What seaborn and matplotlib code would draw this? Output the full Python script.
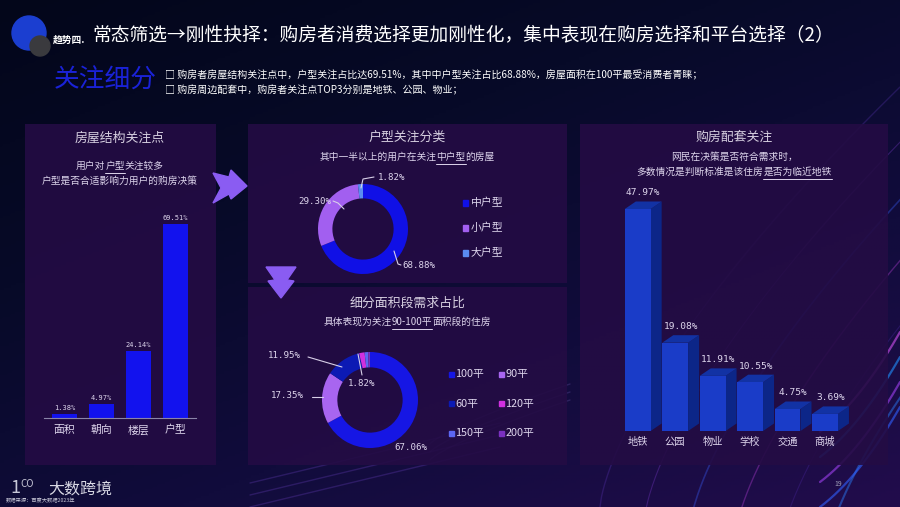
import numpy as np
import pandas as pd
import matplotlib
matplotlib.use("Agg")
import matplotlib.pyplot as plt
import seaborn as sns
from matplotlib.patches import Rectangle, Polygon, Circle
from matplotlib.lines import Line2D
from matplotlib.colors import LinearSegmentedColormap

# ---------------- data ----------------
struct_cats = ["面积", "朝向", "楼层", "户型"]
struct_vals = [1.38, 4.97, 24.14, 69.51]

type_cats = ["中户型", "小户型", "大户型"]
type_vals = [68.88, 29.30, 1.82]

area_cats = ["100平", "90平", "60平", "120平", "150平", "200平"]
area_vals = [67.06, 17.35, 11.95, 1.82, 1.20, 0.62]

amen_cats = ["地铁", "公园", "物业", "学校", "交通", "商城"]
amen_vals = [47.97, 19.08, 11.91, 10.55, 4.75, 3.69]

# ---------------- setup ----------------
sns.set_theme(style="white")
plt.rcParams["font.family"] = ["Noto Sans CJK SC", "DejaVu Sans"]
plt.rcParams["axes.unicode_minus"] = False

W, H = 900, 507
fig = plt.figure(figsize=(9, 5.07), dpi=100)
fig.patch.set_facecolor("#04071c")


def fx(x):
    return x / W


def fy(y):
    return 1 - y / H


def add_ax(l, t, r, b, **kw):
    return fig.add_axes([l / W, 1 - b / H, (r - l) / W, (b - t) / H], **kw)


MONO = ["DejaVu Sans Mono"]
LABEL_C = "#ddd5ec"
TITLE_C = "#d6cfe0"

# ---------------- background ----------------
bg = add_ax(0, 0, W, H)
bg.set_axis_off()
yy, xx = np.mgrid[0:1:200j, 0:1:360j]
grad = 0.5 * xx + 0.7 * yy
cmap = LinearSegmentedColormap.from_list("bg", ["#03061a", "#070a28", "#110c3c", "#220c4c"])
bg.imshow(grad, cmap=cmap, extent=[0, W, H, 0], aspect="auto", zorder=0)
bg.set_xlim(0, W)
bg.set_ylim(H, 0)
# faint streaks
t = np.linspace(0, 1, 200)
for k, (c, a, lw) in enumerate([("#6a3cd0", 0.25, 1.0), ("#8a40e0", 0.3, 0.8), ("#3a60ff", 0.35, 1.2),
                                  ("#c040e0", 0.35, 1.0), ("#5a30c0", 0.25, 0.8), ("#2a80ff", 0.45, 1.5)]):
    x0 = 600 + k * 45
    xs = x0 + 300 * t
    ys = 507 - 420 * t ** 0.7 + k * 10
    bg.plot(xs, ys, color=c, alpha=a, lw=lw, zorder=1)
for k in range(4):
    xs = 820 + 80 * t
    ys = 507 - 60 * t - k * 25 - 40 * t ** 2
    bg.plot(xs, ys, color=["#3060ff", "#a040f0", "#2090ff", "#d050f0"][k], alpha=0.6, lw=1.6, zorder=1)
for k in range(3):
    xs = 430 + 140 * t
    ys = 460 - 60 * t ** 0.8 - k * 8
    bg.plot(xs, ys, color="#7a60c0", alpha=0.25, lw=1.0, zorder=1)
for k in range(3):
    xs = 250 + 250 * t
    ys = 507 - 60 * t - k * 12
    bg.plot(xs, ys, color="#6a40c0", alpha=0.3, lw=1.0, zorder=1)

# panels
for (l, tp, r, b) in [(25, 124, 216, 465), (248, 124, 567, 283), (248, 287, 567, 465), (580, 124, 888, 465)]:
    bg.add_patch(Rectangle((l, tp), r - l, b - tp, facecolor="#240c44", edgecolor="none", alpha=0.9, zorder=2))

# logo circles
bg.add_patch(Circle((29, 33), 17, color="#1b3ed0", zorder=3))
bg.add_patch(Circle((40, 46), 10, color="#3a3a3e", zorder=4))

# arrows
bg.add_patch(Polygon([(213, 173), (229, 177), (231, 170), (247, 186), (231, 199), (229, 194), (213, 203), (221, 188)],
                     closed=True, color="#8a5cf2", zorder=3))
bg.add_patch(Polygon([(266, 267), (296, 267), (287, 280), (294, 281), (281, 298), (268, 281), (275, 280)],
                     closed=True, color="#8a5cf2", zorder=3))

# ---------------- header texts ----------------
fig.text(fx(53), fy(40), "趋势四.", fontsize=7, fontweight="bold", color="white", va="center")
fig.text(fx(92), fy(36), "常态筛选→刚性抉择：购房者消费选择更加刚性化，集中表现在购房选择和平台选择（2）",
         fontsize=13.5, color="white", va="center")
fig.text(fx(54), fy(81), "关注细分", fontsize=18.5, color="#1a22d8", va="center")
fig.text(fx(165), fy(75), "□ 购房者房屋结构关注点中，户型关注占比达69.51%，其中中户型关注占比68.88%，房屋面积在100平最受消费者青睐；",
         fontsize=7.2, color="white", va="center")
fig.text(fx(165), fy(90), "□ 购房周边配套中，购房者关注点TOP3分别是地铁、公园、物业；",
         fontsize=7.2, color="white", va="center")

renderer = fig.canvas.get_renderer()


def seg_text(xc, y, parts, size, color=LABEL_C):
    widths = []
    for s, _ in parts:
        tt = fig.text(0, 0, s, fontsize=size)
        widths.append(tt.get_window_extent(renderer).width)
        tt.remove()
    x = xc - sum(widths) / 2
    for (s, u), w in zip(parts, widths):
        fig.text(fx(x), fy(y), s, fontsize=size, color=color, va="center", ha="left")
        if u:
            fig.add_artist(Line2D([fx(x), fx(x + w)], [fy(y + 6.5)] * 2, color=color, lw=0.7))
        x += w


# ---------------- panel 1: structure bars ----------------
fig.text(fx(120), fy(138), "房屋结构关注点", fontsize=9.3, color=TITLE_C, ha="center", va="center")
seg_text(120, 166, [("用户对", False), ("户型", True), ("关注较多", False)], 7)
seg_text(120, 181, [("户型是否合适影响力用户的购房决策", False)], 7)

ax1 = add_ax(44, 195, 196, 418)
df1 = pd.DataFrame({"cat": struct_cats, "val": struct_vals})
sns.barplot(data=df1, x="cat", y="val", color="#1212ee", saturation=1, width=0.68, ax=ax1,
            edgecolor="none", linewidth=0)
ax1.set_facecolor("none")
ax1.set_ylim(0, 80)
ax1.set_xlim(-0.55, 3.55)
for s in ["top", "right", "left"]:
    ax1.spines[s].set_visible(False)
ax1.spines["bottom"].set_color("#8a84a8")
ax1.spines["bottom"].set_linewidth(0.8)
ax1.set_xlabel("")
ax1.set_ylabel("")
ax1.set_yticks([])
ax1.tick_params(axis="x", length=0, pad=5, labelsize=7.8, labelcolor=LABEL_C)
ax1.bar_label(ax1.containers[0], labels=[f"{v:.2f}%" for v in struct_vals], padding=2,
              fontsize=5, color=LABEL_C, family=MONO)

# ---------------- panel 2: house-type donut ----------------
fig.text(fx(407), fy(137), "户型关注分类", fontsize=9.3, color=TITLE_C, ha="center", va="center")
seg_text(407, 157, [("其中一半以上的用户在关注", False), ("中户型", True), ("的房屋", False)], 7)

type_cols = ["#1010e6", "#a25ff0", "#5a8cf0"]
ax2 = add_ax(318, 184, 408, 274)
ax2.pie(type_vals, colors=type_cols, startangle=90, counterclock=False,
        wedgeprops=dict(width=0.32, edgecolor="none"))
ax2.set_xlim(-1, 1)
ax2.set_ylim(-1, 1)
ax2.set_axis_off()


def leader(pts, color="#d8d0e8"):
    fig.add_artist(Line2D([fx(p[0]) for p in pts], [fy(p[1]) for p in pts], color=color, lw=0.8))


fig.text(fx(378), fy(177), f"{type_vals[2]:.2f}%", fontsize=6.6, color=LABEL_C, family=MONO, va="center")
leader([(361, 188), (363, 179), (374, 177)])
fig.text(fx(298), fy(201), f"{type_vals[1]:.2f}%", fontsize=6.6, color=LABEL_C, family=MONO, va="center")
leader([(333, 201), (338, 203), (344, 209)])
fig.text(fx(402), fy(265), f"{type_vals[0]:.2f}%", fontsize=6.6, color=LABEL_C, family=MONO, va="center")
leader([(394, 251), (398, 264), (401, 265)])

for i, (c, col) in enumerate(zip(type_cats, type_cols)):
    y = 203 + i * 25
    bg.add_patch(Rectangle((462.5, y - 2.8), 5.6, 5.6, color=col, zorder=5))
    fig.text(fx(471), fy(y), c, fontsize=7.8, color=LABEL_C, va="center")

# ---------------- panel 3: area donut ----------------
fig.text(fx(407), fy(303), "细分面积段需求占比", fontsize=9.3, color=TITLE_C, ha="center", va="center")
seg_text(407, 322, [("具体表现为关注", False), ("90-100平", True), ("面积段的住房", False)], 7)

area_cols = ["#1616e4", "#a865f0", "#0c1ab4", "#d030e0", "#5c66f2", "#7a30c0"]
ax3 = add_ax(322, 352, 418, 448)
ax3.pie(area_vals, colors=area_cols, startangle=90, counterclock=False,
        wedgeprops=dict(width=0.32, edgecolor="none"))
ax3.set_xlim(-1, 1)
ax3.set_ylim(-1, 1)
ax3.set_axis_off()

fig.text(fx(268), fy(356), f"{area_vals[2]:.2f}%", fontsize=6.6, color=LABEL_C, family=MONO, va="center")
leader([(308, 357), (342, 367)])
fig.text(fx(271), fy(396), f"{area_vals[1]:.2f}%", fontsize=6.6, color=LABEL_C, family=MONO, va="center")
leader([(312, 397), (323, 397)])
fig.text(fx(348), fy(384), f"{area_vals[3]:.2f}%", fontsize=6.6, color=LABEL_C, family=MONO, va="center")
leader([(358, 354), (362, 375)])
fig.text(fx(394), fy(448), f"{area_vals[0]:.2f}%", fontsize=6.6, color=LABEL_C, family=MONO, va="center")

for i, (c, col) in enumerate(zip(area_cats, area_cols)):
    colm, row = i % 2, i // 2
    x = 451 + colm * 50
    y = 374 + row * 29.5
    bg.add_patch(Rectangle((x - 2.5, y - 2.5), 5, 5, color=col, zorder=5))
    fig.text(fx(x + 4.5), fy(y), c, fontsize=7.8, color=LABEL_C, va="center")

# ---------------- panel 4: amenities 3D bars ----------------
fig.text(fx(734), fy(137), "购房配套关注", fontsize=9.3, color=TITLE_C, ha="center", va="center")
seg_text(734, 157, [("网民在决策是否符合需求时，", False)], 7)
seg_text(734, 172, [("多数情况是判断标准是该住房", False), ("是否为临近地铁", True)], 7)

L4, R4, T4, B4 = 619, 855, 180, 431
ax4 = add_ax(L4, T4, R4, B4)
df4 = pd.DataFrame({"cat": amen_cats, "val": amen_vals})
sns.barplot(data=df4, x="cat", y="val", color="#1a3cc8", saturation=1, width=0.69, ax=ax4, zorder=3,
            edgecolor="none", linewidth=0)
ax4.set_facecolor("none")
xmin, xmax = -0.5, 5.8
ymax = 47.97 * (B4 - T4) / 222.0
ax4.set_xlim(xmin, xmax)
ax4.set_ylim(0, ymax)
sns.despine(ax=ax4, left=True, bottom=True)
ax4.set_xlabel("")
ax4.set_ylabel("")
ax4.set_yticks([])
ax4.tick_params(axis="x", length=0, pad=4, labelsize=7.4, labelcolor=LABEL_C)

px_per_x = (R4 - L4) / (xmax - xmin)
px_per_y = (B4 - T4) / ymax
dx = 11 / px_per_x
dy = 7.5 / px_per_y
for p, v in zip(ax4.patches, amen_vals):
    x0, w, h = p.get_x(), p.get_width(), p.get_height()
    side = Polygon([(x0 + w, 0), (x0 + w + dx, dy), (x0 + w + dx, h + dy), (x0 + w, h)],
                   closed=True, facecolor="#0c2688", edgecolor="none", zorder=2)
    top = Polygon([(x0, h), (x0 + dx, h + dy), (x0 + w + dx, h + dy), (x0 + w, h)],
                  closed=True, facecolor="#1232a4", edgecolor="none", zorder=2)
    ax4.add_patch(side)
    ax4.add_patch(top)
    ax4.annotate(f"{v:.2f}%", (x0 + w / 2 + dx / 2, h + dy), xytext=(0, 3), textcoords="offset points",
                 ha="center", va="bottom", fontsize=6.8, color=LABEL_C, family=MONO, annotation_clip=False)

# ---------------- footer ----------------
fig.text(fx(10), fy(488), "1", fontsize=13, color="#c8c8d8", va="center", fontweight="light")
fig.text(fx(20), fy(484), "CO", fontsize=7, color="#c8c8d8", va="center")
fig.text(fx(48), fy(489), "大数跨境", fontsize=11.5, color="#d8d8e4", va="center")
fig.text(fx(6), fy(501), "数据来源：百度大数据2023年", fontsize=3.8, color="#c8c8d8", va="center")
fig.text(fx(838), fy(484), "19", fontsize=5, color="#a0a0b8", ha="center", va="center")

fig.savefig("out.png", dpi=100, facecolor=fig.get_facecolor())
